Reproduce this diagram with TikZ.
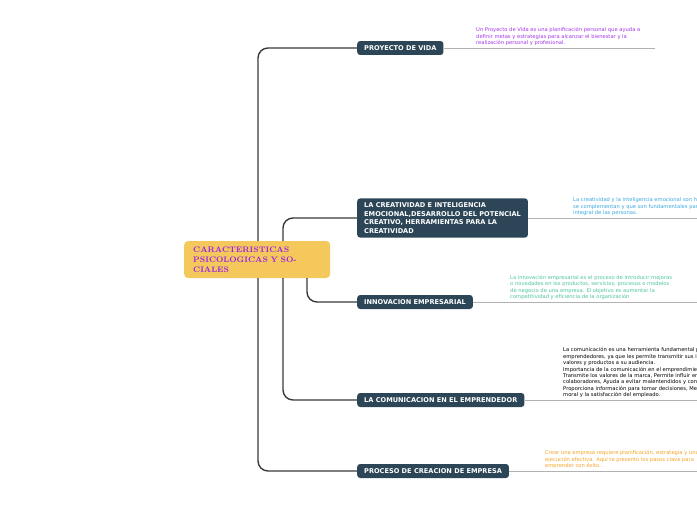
\documentclass[tikz,border=0pt]{standalone}
\usepackage{fontspec}
\setsansfont{DejaVu Sans}
\usetikzlibrary{positioning}
\definecolor{topicfill}{HTML}{2C4657}
\definecolor{rootfill}{HTML}{F5C85C}
\definecolor{rootink}{HTML}{9B22E6}
\definecolor{notepurple}{HTML}{A335E8}
\definecolor{noteblue}{HTML}{3AA8E0}
\definecolor{notegreen}{HTML}{4CC49C}
\definecolor{noteorange}{HTML}{F5A220}
\definecolor{branch}{HTML}{3A3A3A}

\begin{document}
\begin{tikzpicture}[x=1pt,y=-1pt]
  \tikzstyle{topic}=[fill=topicfill,rounded corners=3pt,text=white,font=\sffamily\bfseries\fontsize{6.6}{8.4}\selectfont,anchor=west,align=left,inner xsep=7pt,inner ysep=4.5pt]
  \tikzstyle{note}=[font=\sffamily\fontsize{5.2}{6.4}\selectfont,anchor=south west,align=left,inner sep=0pt]
  \tikzstyle{trunk}=[draw=branch,line width=1.4pt,rounded corners=10pt]
  \tikzstyle{rule}=[draw=black!30,line width=0.8pt]

  \useasboundingbox (0,0) rectangle (697,520);
  \clip (0,0) rectangle (697,520);

  \node[fill=rootfill,rounded corners=4pt,text=rootink,font=\bfseries\fontsize{8}{10}\selectfont,
        minimum width=146pt,minimum height=37pt,align=left,anchor=west,inner xsep=9pt,text width=128pt]
        (root) at (184,259.5) {CARACTERISTICAS\\PSICOLOGICAS\ Y\ SOCIALES};

  \node[topic] (vida) at (357,48) {PROYECTO DE VIDA};
  \node[topic] (crea) at (357,218)
        {LA CREATIVIDAD E INTELIGENCIA\\EMOCIONAL,DESARROLLO DEL POTENCIAL\\CREATIVO, HERRAMIENTAS PARA LA\\CREATIVIDAD};
  \node[topic] (inno) at (357,302) {INNOVACION EMPRESARIAL};
  \node[topic] (comu) at (357,400) {LA COMUNICACION EN EL EMPRENDEDOR};
  \node[topic] (proc) at (357,471) {PROCESO DE CREACION DE EMPRESA};

  % branches
  \draw[trunk] (258,241) |- (vida.west);
  \draw[trunk] (258,278) |- (proc.west);
  \draw[trunk] (283,241) |- (crea.west);
  \draw[trunk] (283,278) |- (comu.west);
  \draw[trunk] (307,278) |- (inno.west);

  % notes
  \node[note,text=notepurple] (nvida) at (476,46)
    {Un Proyecto de Vida es una planificación personal que ayuda a\\definir metas y estrategias para alcanzar el bienestar y la\\realización personal y profesional.};
  \node[note,text=noteblue] (ncrea) at (573,216)
    {La creatividad y la inteligencia emocional son habilidades que\\se complementan y que son fundamentales para el desarrollo\\integral de las personas.};
  \node[note,text=notegreen] (ninno) at (510,300)
    {La innovación empresarial es el proceso de introducir mejoras\\o novedades en los productos, servicios, procesos o modelos\\de negocio de una empresa. El objetivo es aumentar la\\competitividad y eficiencia de la organización};
  \node[note,text=black] (ncomu) at (563,398)
    {La comunicación es una herramienta fundamental para los\\emprendedores, ya que les permite transmitir sus ideas,\\valores y productos a su audiencia.\\
     Importancia de la comunicación en el emprendimiento:\\
     Transmite los valores de la marca, Permite influir en los\\colaboradores, Ayuda a evitar malentendidos y conflictos,\\
     Proporciona información para tomar decisiones, Mejora la\\moral y la satisfacción del empleado.};
  \node[note,text=noteorange] (nproc) at (545,469)
    {Crear una empresa requiere planificación, estrategia y una\\ejecución efectiva. Aquí te presento los pasos clave para\\emprender con éxito.};

  \coordinate (evida) at (655,48);
  \draw[rule] (vida.east) -- (evida);
  \draw[rule] (crea.east) -- ++(300,0);
  \draw[rule] (inno.east) -- ++(300,0);
  \draw[rule] (comu.east) -- ++(300,0);
  \draw[rule] (proc.east) -- ++(300,0);
\end{tikzpicture}
\end{document}
